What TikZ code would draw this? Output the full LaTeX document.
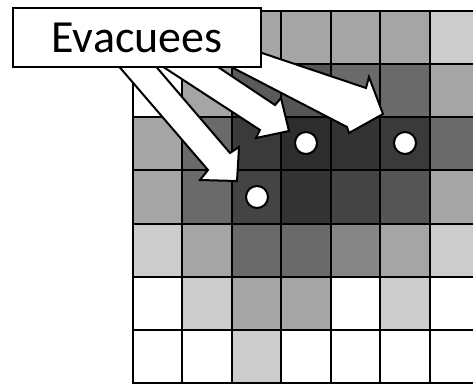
\documentclass[tikz,border=0pt]{standalone}
\usepackage{fontspec}
\setmainfont{Carlito}
\definecolor{cW}{HTML}{FFFFFF}
\definecolor{cL}{HTML}{CCCCCC}
\definecolor{cM}{HTML}{A5A5A5}
\definecolor{cN}{HTML}{868686}
\definecolor{cD}{HTML}{6A6A6A}
\definecolor{cE}{HTML}{5A5A5A}
\definecolor{cF}{HTML}{555555}
\definecolor{cG}{HTML}{444444}
\definecolor{cH}{HTML}{3A3A3A}
\definecolor{cI}{HTML}{333333}
\definecolor{cJ}{HTML}{2D2D2D}
\begin{document}
\begin{tikzpicture}[x=1pt,y=-1pt,
  gridline/.style={line width=2pt, draw=black, line cap=rect},
  arrowshape/.style={fill=white, draw=black, line width=2pt, line join=miter},
  labelbox/.style={draw=black, fill=white, line width=2pt, minimum width=248pt,
    minimum height=59pt, inner sep=0pt, font=\fontsize{46}{52}\selectfont},
  evac/.style={circle, draw=black, fill=white, line width=2pt,
    minimum size=22pt, inner sep=0pt}]
\clip (0,0) rectangle (473,385);
\fill[white] (0,0) rectangle (473,385);
% cells
\foreach \row [count=\r from 0] in {
  {cM,cM,cM,cM,cM,cM,cL},
  {cW,cM,cE,cF,cD,cD,cM},
  {cM,cD,cH,cJ,cI,cH,cD},
  {cM,cD,cG,cI,cG,cF,cM},
  {cL,cM,cD,cD,cN,cM,cL},
  {cW,cL,cM,cM,cW,cL,cW},
  {cW,cW,cL,cW,cW,cW,cW}} {
  \foreach \col [count=\c from 0] in \row {
    \fill[\col] ({133+\c*49.45},{11+\r*53.15}) rectangle ++(49.45,53.15);
  }
}
% grid lines
\foreach \i in {0,...,7} {
  \draw[gridline] ({133+\i*49.45},11) -- ({133+\i*49.45},383);
  \draw[gridline] (133,{11+\i*53.15}) -- (480,{11+\i*53.15});
}
% block arrows
\draw[arrowshape] (104,49) -- (208,170) -- (200,180) -- (237,181) -- (239,147) -- (230,153) -- (141,49) -- cycle;
\draw[arrowshape] (148,57) -- (260,130) -- (256,138) -- (289,131) -- (281,98) -- (275,105) -- (203,57) -- cycle;
\draw[arrowshape] (212,57) -- (347,127) -- (349,133) -- (383,114) -- (369,77) -- (366,88) -- (240,45.6) -- cycle;
% label
\node[labelbox] (label) at (137,37.5) {Evacuees};
% evacuees
\node[evac] (e1) at (306,143) {};
\node[evac] (e2) at (405,143) {};
\node[evac] (e3) at (257,197) {};
\end{tikzpicture}
\end{document}
